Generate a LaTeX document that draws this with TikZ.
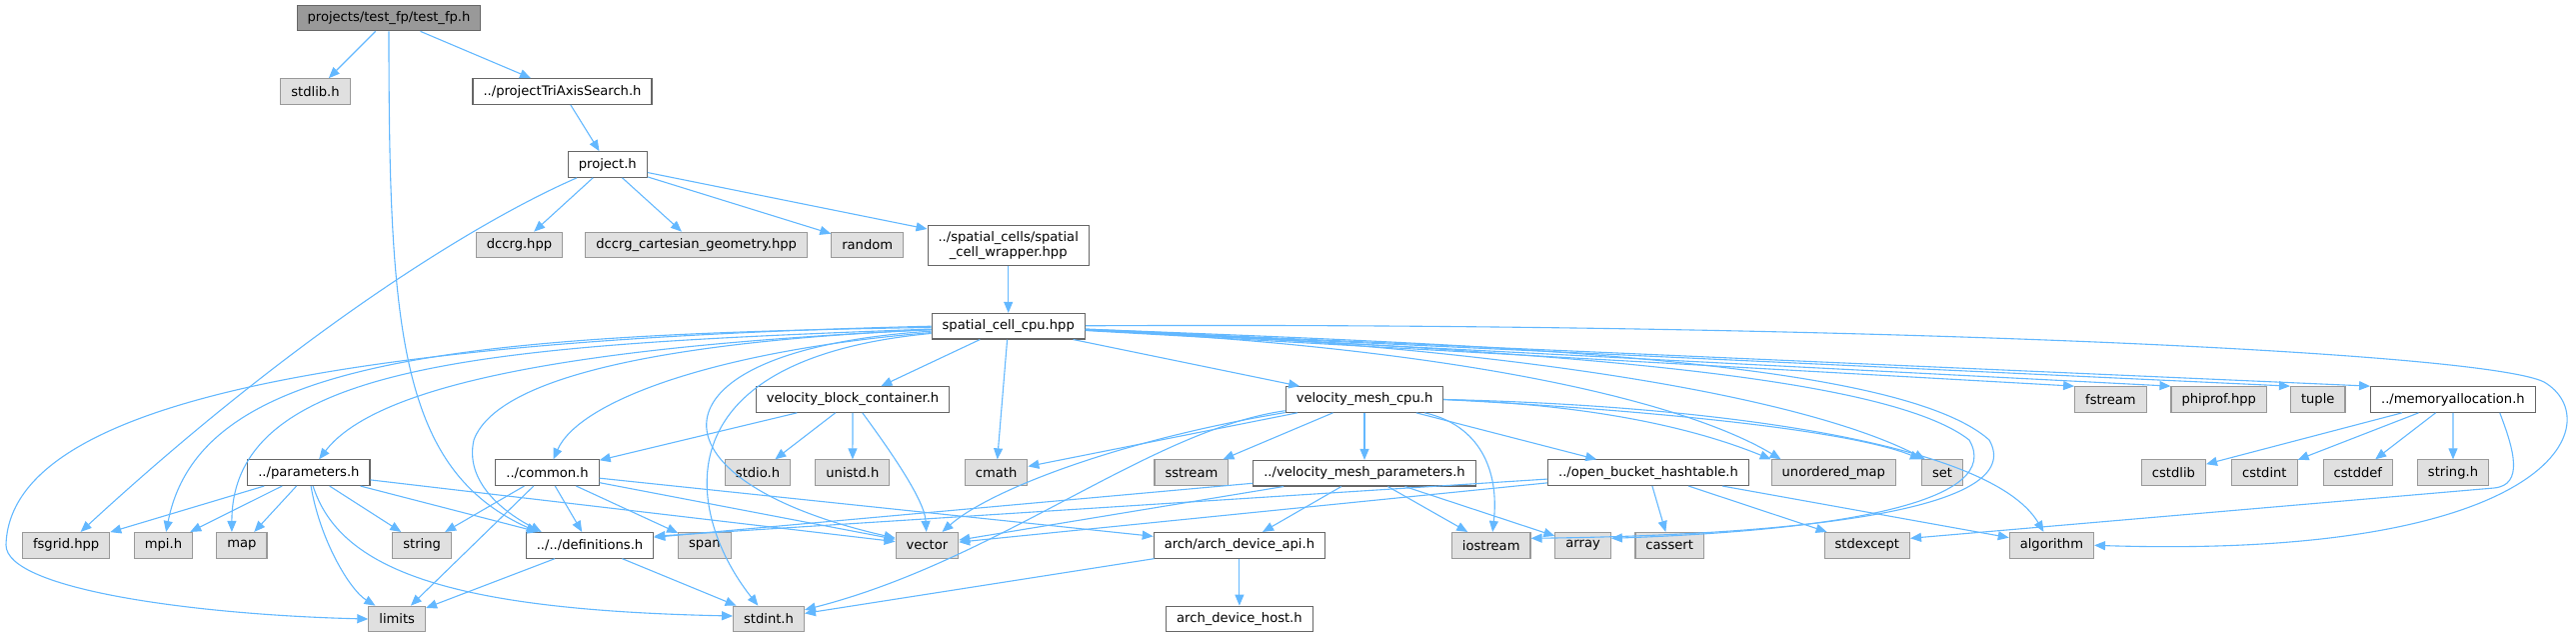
\documentclass[tikz,border=0pt]{standalone}
\usepackage{fontspec}
\setmainfont{DejaVu Sans}
\usepackage{xcolor}
\usetikzlibrary{arrows.meta,positioning}

\definecolor{edgeblue}{HTML}{63B8FF}
\definecolor{sysfill}{HTML}{E0E0E0}
\definecolor{sysline}{HTML}{999999}
\definecolor{hdrline}{HTML}{666666}
\definecolor{rootfill}{HTML}{999999}

\begin{document}
\begin{tikzpicture}[x=1pt, y=-1pt, node distance=47pt, >={Triangle[length=11pt,width=9pt]}]
  \tikzstyle{box} = [draw, rectangle, inner xsep=10.5pt, inner ysep=0pt, minimum height=25.6pt, line width=1.1pt, font=\fontsize{13.1pt}{15pt}\selectfont]
  \tikzstyle{hdr} = [box, draw=hdrline, fill=white]
  \tikzstyle{sys} = [box, draw=sysline, fill=sysfill]
  \tikzstyle{root} = [box, draw=hdrline, fill=rootfill]
  \tikzstyle{dep} = [->, draw=edgeblue, line width=1.1pt]

  \useasboundingbox (0,0) rectangle (2577,637);

  % top of the graph
  \node [root] (main) at (389,18) {projects/test\_fp/test\_fp.h};
  \node [sys] (stdlibh) at (315.5,91.5) {stdlib.h};
  \node [hdr] (triaxis) at (562.5,91.5) {../projectTriAxisSearch.h};
  \node [hdr] (project) at (607.8,164.5) {project.h};
  \node [sys] (dccrg) at (519.5,245) {dccrg.hpp};
  \node [sys] (dccrggeom) at (696.7,245) {dccrg\_cartesian\_geometry.hpp};
  \node [sys] (random) at (867.7,245) {random};
  \node [hdr, align=center, minimum height=40pt] (wrapper) at (1008.7,245.3) {../spatial\_cells/spatial\\\_cell\_wrapper.hpp};
  \node [hdr, below=of wrapper] (spatialcell) {spatial\_cell\_cpu.hpp};

  % second level
  \node [hdr] (blockcont) at (853,399.5) {velocity\_block\_container.h};
  \node [hdr] (meshcpu) at (1365,399.5) {velocity\_mesh\_cpu.h};
  \node [sys] (fstream) at (2111.4,399.5) {fstream};
  \node [sys] (phiprof) at (2219.7,399.5) {phiprof.hpp};
  \node [sys] (tuple) at (2318.7,399.5) {tuple};
  \node [hdr] (memalloc) at (2453.9,399.5) {../memoryallocation.h};

  \node [hdr] (params) at (308.9,472.7) {../parameters.h};
  \node [hdr] (common) at (547.5,472.7) {../common.h};
  \node [sys] (stdioh) at (758,472.7) {stdio.h};
  \node [sys] (unistdh) at (852.9,472.7) {unistd.h};
  \node [sys] (cmath) at (996.6,472.7) {cmath};
  \node [sys] (sstream) at (1191.9,472.7) {sstream};
  \node [hdr, below=of meshcpu] (meshparams) {../velocity\_mesh\_parameters.h};
  \node [hdr] (hashtable) at (1649,472.7) {../open\_bucket\_hashtable.h};
  \node [sys] (umap) at (1834.3,472.7) {unordered\_map};
  \node [sys] (set) at (1943,472.7) {set};
  \node [sys] (cstdlib) at (2174.4,472.7) {cstdlib};
  \node [sys] (cstdint) at (2265.3,472.7) {cstdint};
  \node [sys] (cstddef) at (2358.8,472.7) {cstddef};
  \node [sys] (stringh) at (2454,472.7) {string.h};

  \node [sys] (fsgrid) at (66.1,545.3) {fsgrid.hpp};
  \node [sys] (mpih) at (163.5,545.3) {mpi.h};
  \node [sys] (map) at (241.9,545.3) {map};
  \node [sys] (string) at (422.1,545.3) {string};
  \node [hdr] (defs) at (590,545.3) {../../definitions.h};
  \node [sys] (span) at (704.9,545.3) {span};
  \node [sys] (vector) at (927.4,545.3) {vector};
  \node [hdr] (archapi) at (1239.9,545.3) {arch/arch\_device\_api.h};
  \node [sys] (iostream) at (1491.7,545.3) {iostream};
  \node [sys] (array) at (1583.6,545.3) {array};
  \node [sys] (cassert) at (1670.2,545.3) {cassert};
  \node [sys] (stdexcept) at (1867.8,545.3) {stdexcept};
  \node [sys] (algorithm) at (2052.4,545.3) {algorithm};

  \node [sys] (limits) at (397.2,619) {limits};
  \node [sys] (stdinth) at (769,619) {stdint.h};
  \node [hdr, below=of archapi] (archhost) {arch\_device\_host.h};

  % includes of the test header
  \draw [dep] (main) -- (stdlibh);
  \draw [dep] (main) -- (triaxis);
  \draw [dep] (main) .. controls (389,330) and (400,470) .. ([xshift=12pt]defs.north west);
  \draw [dep] (triaxis) -- (project);
  \draw [dep] (project) .. controls (480,220) and (300,330) .. (fsgrid);
  \draw [dep] (project) -- (dccrg);
  \draw [dep] (project) -- (dccrggeom);
  \draw [dep] (project) -- (random);
  \draw [dep] (project) -- (wrapper);
  \draw [dep] (wrapper) -- (spatialcell);

  % spatial_cell_cpu.hpp
  \draw [dep] (spatialcell.west) .. controls (350,340) and (10,400) .. (6,545) .. controls (6,590) and (200,615) .. (limits.west);
  \draw [dep] (spatialcell) .. controls (450,335) and (200,360) .. (mpih);
  \draw [dep] (spatialcell) .. controls (500,345) and (232,360) .. ([xshift=-10pt]map.north);
  \draw [dep] (spatialcell) .. controls (600,345) and (380,380) .. (params);
  \draw [dep] (spatialcell) .. controls (720,350) and (580,400) .. (common);
  \draw [dep] (spatialcell) .. controls (700,340) and (500,370) .. (474,440) .. controls (465,480) and (500,510) .. ([xshift=16pt]defs.north west);
  \draw [dep] (spatialcell) .. controls (640,350) and (640,480) .. (vector);
  \draw [dep] (spatialcell) .. controls (650,360) and (690,520) .. (stdinth);
  \draw [dep] (spatialcell) -- (blockcont);
  \draw [dep] (spatialcell) -- (cmath);
  \draw [dep] (spatialcell) -- (meshcpu);
  \draw [dep] (spatialcell) -- (fstream.north west);
  \draw [dep] (spatialcell) -- (phiprof.north west);
  \draw [dep] (spatialcell) -- (tuple.north west);
  \draw [dep] (spatialcell) -- (memalloc.north west);
  \draw [dep] (spatialcell) .. controls (1800,322) and (2480,350) .. (2545,382) .. controls (2610,420) and (2560,560) .. (algorithm.east);
  \draw [dep] (spatialcell) .. controls (1500,350) and (1700,410) .. ([xshift=10pt]umap.north west);
  \draw [dep] (spatialcell) .. controls (1500,345) and (1800,395) .. ([xshift=4pt]set.north west);
  \draw [dep] (spatialcell) .. controls (1500,345) and (1900,360) .. (1990,440) .. controls (2030,510) and (1800,535) .. ([yshift=7pt]iostream.east);
  \draw [dep] (spatialcell) .. controls (1500,350) and (1880,370) .. (1970,440) .. controls (2005,500) and (1850,530) .. ([yshift=7pt]array.east);

  % velocity_block_container.h
  \draw [dep] (blockcont) -- (common);
  \draw [dep] (blockcont) -- (stdioh);
  \draw [dep] (blockcont) -- (unistdh);
  \draw [dep] (blockcont) .. controls (890,450) and (925,500) .. (vector);

  % velocity_mesh_cpu.h
  \draw [dep] (meshcpu) -- (cmath);
  \draw [dep] (meshcpu) .. controls (1120,440) and (990,490) .. (vector);
  \draw [dep] (meshcpu) .. controls (1150,430) and (1000,560) .. (stdinth);
  \draw [dep] (meshcpu) -- (sstream);
  \draw [dep] (meshcpu) -- (meshparams);
  \draw [dep] (meshcpu) .. controls (1480,425) and (1500,470) .. (iostream);
  \draw [dep] (meshcpu) -- (hashtable);
  \draw [dep] (meshcpu.east) .. controls (1600,405) and (1700,430) .. (umap.north west);
  \draw [dep] (meshcpu.east) .. controls (1650,410) and (1850,430) .. (set.north west);
  \draw [dep] (meshcpu.east) .. controls (1700,405) and (1990,440) .. (algorithm);

  % ../velocity_mesh_parameters.h
  \draw [dep] (meshparams) -- ([yshift=8pt]defs.east);
  \draw [dep] (meshparams) -- (vector);
  \draw [dep] (meshparams) -- (archapi);
  \draw [dep] (meshparams) -- (iostream);
  \draw [dep] (meshparams) -- (array);

  % ../open_bucket_hashtable.h
  \draw [dep] (hashtable) -- ([yshift=9pt]defs.east);
  \draw [dep] (hashtable) -- (vector);
  \draw [dep] (hashtable) -- (cassert);
  \draw [dep] (hashtable) -- (stdexcept);
  \draw [dep] (hashtable) -- (algorithm);

  % ../memoryallocation.h
  \draw [dep] (memalloc) -- (cstdlib);
  \draw [dep] (memalloc) -- (cstdint);
  \draw [dep] (memalloc) -- (cstddef);
  \draw [dep] (memalloc) -- (stringh);
  \draw [dep] ([xshift=-36pt]memalloc.south east) .. controls (2515,450) and (2525,485) .. (2495,488) -- ([yshift=7pt]stdexcept.east);

  % ../parameters.h
  \draw [dep] (params) -- (fsgrid);
  \draw [dep] (params) -- (mpih);
  \draw [dep] (params) -- (map);
  \draw [dep] (params) -- (string);
  \draw [dep] (params) -- (defs);
  \draw [dep] (params) .. controls (320,540) and (350,590) .. (limits);
  \draw [dep] (params) .. controls (340,570) and (450,610) .. ([yshift=3pt]stdinth.west);
  \draw [dep] (params) -- (vector);

  % ../common.h
  \draw [dep] (common) -- (string);
  \draw [dep] (common) -- (limits);
  \draw [dep] (common) -- (defs);
  \draw [dep] (common) -- (span);
  \draw [dep] (common) -- (vector);
  \draw [dep] (common) -- (archapi);

  % lowest level
  \draw [dep] (defs) -- (limits);
  \draw [dep] (defs) -- (stdinth);
  \draw [dep] (archapi) -- (archhost);
  \draw [dep] (archapi) -- (stdinth);
\end{tikzpicture}
\end{document}
